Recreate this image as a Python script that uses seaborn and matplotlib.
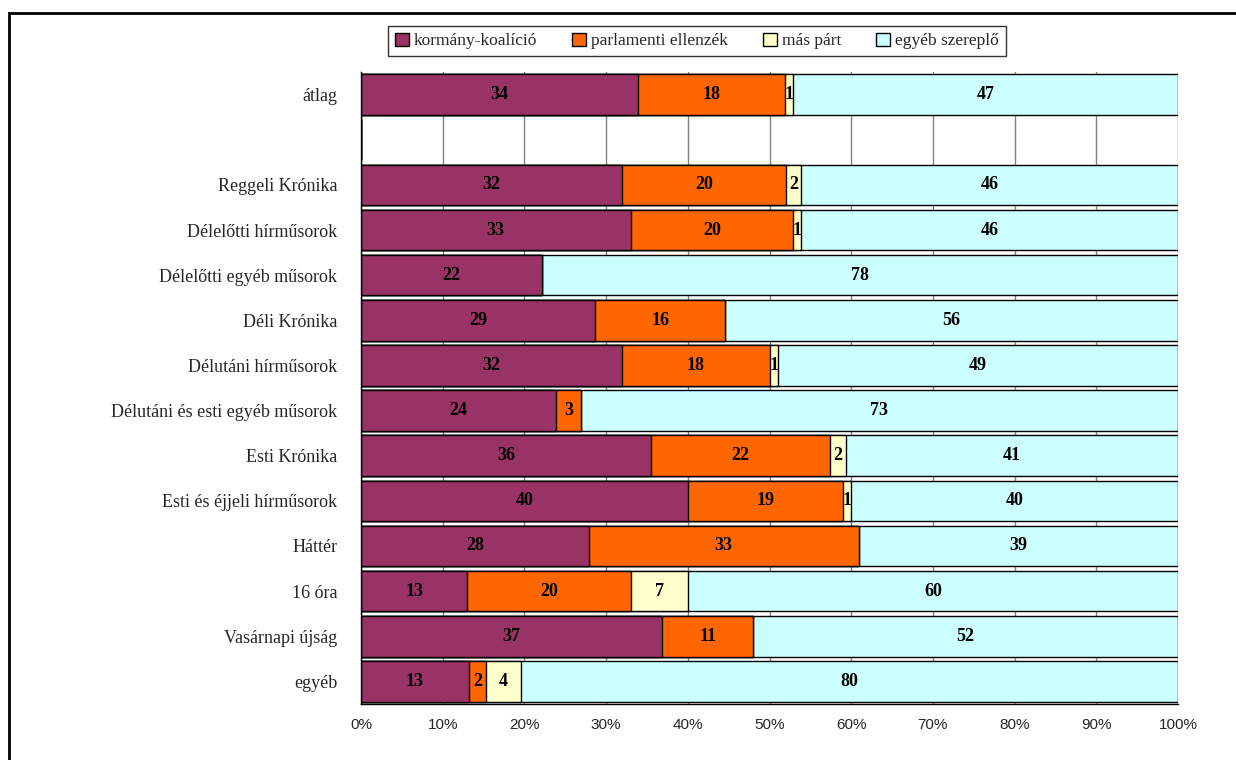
import numpy as np
import pandas as pd
import matplotlib.pyplot as plt
import seaborn as sns
from matplotlib.patches import Patch, Rectangle

# Data (share in %)
categories = [
    "átlag", "",
    "Reggeli Krónika",
    "Délelőtti hírműsorok",
    "Délelőtti egyéb műsorok",
    "Déli Krónika",
    "Délutáni hírműsorok",
    "Délutáni és esti egyéb műsorok",
    "Esti Krónika",
    "Esti és éjjeli hírműsorok",
    "Háttér",
    "16 óra",
    "Vasárnapi újság",
    "egyéb",
]
kormany = [33.9, 0, 32.0, 33.0, 22.1, 28.7, 32.0, 23.9, 35.5, 40.0, 27.9, 13.0, 36.9, 13.2]
ellenzek = [18.0, 0, 20.0, 19.9, 0, 15.8, 18.0, 3.0, 21.9, 19.0, 33.0, 20.0, 11.1, 2.1]
mas_part = [1.0, 0, 1.9, 1.0, 0, 0, 1.0, 0, 2.0, 1.0, 0, 7.0, 0, 4.3]
egyeb = [47.1, 0, 46.1, 46.1, 77.9, 55.5, 49.0, 73.1, 40.6, 40.0, 39.1, 60.0, 52.0, 80.4]

series_names = ["kormány-koalíció", "parlamenti ellenzék", "más párt", "egyéb szereplő"]
series_colors = ["#993366", "#FF6600", "#FFFFCC", "#CCFFFF"]

df = pd.DataFrame({
    "musor": categories,
    "kormany": kormany,
    "ellenzek": ellenzek,
    "mas_part": mas_part,
    "egyeb": egyeb,
})
value_cols = ["kormany", "ellenzek", "mas_part", "egyeb"]
cum = df[value_cols].cumsum(axis=1)
for c in value_cols:
    df["cum_" + c] = cum[c]

sns.set_style("white")
plt.rcParams["font.family"] = ["Liberation Serif", "DejaVu Serif"]

fig = plt.figure(figsize=(12.36, 7.6), dpi=100)
ax = fig.add_axes([361 / 1236, 1 - 704 / 760, (1178 - 361) / 1236, (704 - 72) / 760])

# stacked bars: draw cumulative totals from the outermost inwards
for col, color in reversed(list(zip(value_cols, series_colors))):
    sns.barplot(
        data=df,
        x="cum_" + col,
        y="musor",
        order=categories,
        orient="h",
        color=color,
        saturation=1,
        edgecolor="black",
        linewidth=1,
        width=0.9,
        errorbar=None,
        ax=ax,
    )

# value labels
for i in range(len(categories)):
    left = 0
    for col in value_cols:
        v = df[col].iloc[i]
        if v >= 0.5:
            ax.text(left + v / 2, i, f"{v:.0f}", ha="center", va="center",
                    fontsize=13, fontweight="bold", color="black")
        left += v

ax.set_xlim(0, 100)
ax.set_ylim(len(categories) - 0.5, -0.5)
ax.set_xlabel("")
ax.set_ylabel("")

ax.set_xticks(range(0, 101, 10))
ax.set_xticklabels([f"{t}%" for t in range(0, 101, 10)],
                   fontfamily="Liberation Sans", fontsize=11)
ax.tick_params(axis="x", direction="inout", length=8, width=1, color="black", pad=6)

ax.set_yticks(range(len(categories)))
ax.set_yticklabels(categories, fontsize=13)
ax.set_yticks(np.arange(-0.5, len(categories), 1), minor=True)
ax.tick_params(axis="y", which="major", length=0, pad=17)
ax.tick_params(axis="y", which="minor", length=5, width=1, direction="out", color="black")

ax.xaxis.grid(True, color="#808080", linewidth=1)
ax.set_axisbelow(True)

for side in ["top", "right"]:
    ax.spines[side].set_visible(False)
for side in ["left", "bottom"]:
    ax.spines[side].set_color("black")
    ax.spines[side].set_linewidth(1)

# legend
handles = [Patch(facecolor=c, edgecolor="black", linewidth=1) for c in series_colors]
leg = fig.legend(
    handles, series_names,
    loc="center", bbox_to_anchor=(697 / 1236, 1 - 41 / 760),
    ncol=4, fontsize=12.5, frameon=True, fancybox=False,
    handlelength=0.8, handleheight=0.8, handletextpad=0.3,
    columnspacing=2.0, borderpad=0.4,
)
leg.get_frame().set_edgecolor("black")
leg.get_frame().set_linewidth(1)

# outer frame (left and top edges visible)
fig.add_artist(Rectangle((9 / 1236, -0.05), 1.2, (760 - 13) / 760 + 0.05,
                         transform=fig.transFigure, fill=False,
                         edgecolor="black", linewidth=2, clip_on=False))

fig.savefig("out.png", dpi=100)
